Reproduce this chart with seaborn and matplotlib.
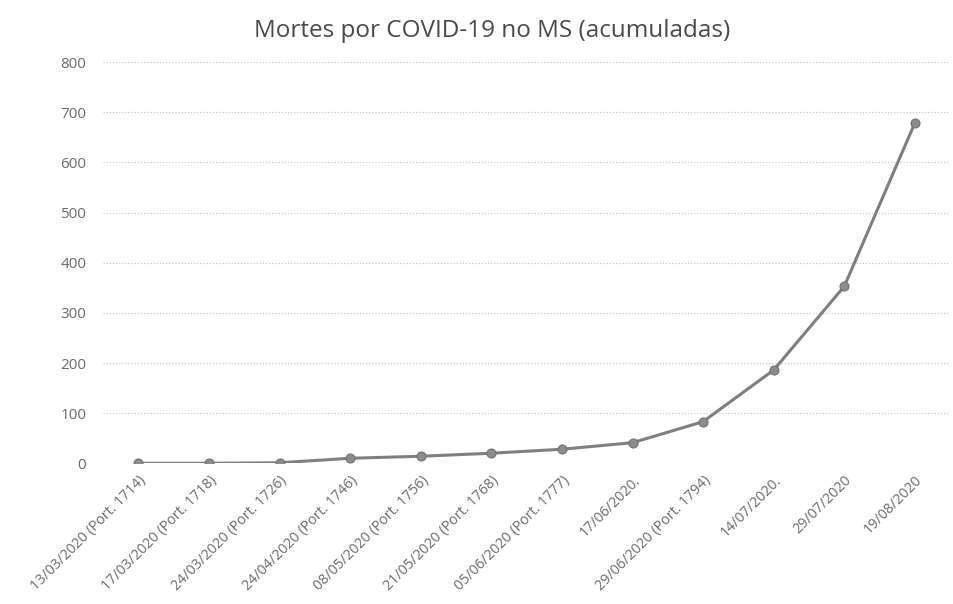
import matplotlib
matplotlib.use("Agg")
import matplotlib.pyplot as plt
import seaborn as sns
import pandas as pd

# Data
datas = [
    "13/03/2020 (Port. 1714)",
    "17/03/2020 (Port. 1718)",
    "24/03/2020 (Port. 1726)",
    "24/04/2020 (Port. 1746)",
    "08/05/2020 (Port. 1756)",
    "21/05/2020 (Port. 1768)",
    "05/06/2020 (Port. 1777)",
    "17/06/2020.",
    "29/06/2020 (Port. 1794)",
    "14/07/2020.",
    "29/07/2020",
    "19/08/2020",
]
mortes = [0, 0, 1, 10, 14, 20, 28, 41, 83, 186, 353, 679]
y_ticks = [0, 100, 200, 300, 400, 500, 600, 700, 800]

df = pd.DataFrame({"data": datas, "mortes": mortes})

sns.set_style("white")
plt.rcParams["font.family"] = ["Open Sans", "DejaVu Sans"]

fig = plt.figure(figsize=(9.54, 6.04), dpi=100)
ax = fig.add_axes([0.108, 0.233, 0.888, 0.664])

sns.lineplot(data=df, x="data", y="mortes", ax=ax, color="#7f7f7f",
             linewidth=2.2, marker="o", markersize=6.5,
             markerfacecolor="#8c8c8c", markeredgecolor="#6f6f6f", sort=False)

ax.set_xlim(-0.5, len(datas) - 0.5)
ax.set_ylim(0, 800)
ax.set_yticks(y_ticks)
ax.yaxis.grid(True, linestyle=(0, (1, 1.5)), color="#c8c8c8", linewidth=0.9)
ax.set_axisbelow(True)
for s in ax.spines.values():
    s.set_visible(False)

ax.set_xlabel("")
ax.set_ylabel("")
ax.tick_params(axis="both", length=0, colors="#6b6b6b")
ax.tick_params(axis="x", labelsize=10.3, pad=7)
ax.tick_params(axis="y", labelsize=11, pad=12)
plt.setp(ax.get_xticklabels(), rotation=45, ha="right", rotation_mode="anchor")

# title is centred over the whole chart area, a bit left of the plot centre
ax.set_title("Mortes por COVID-19 no MS (acumuladas)", fontsize=17.5,
             color="#4a4a4a", pad=18, x=0.459)

fig.savefig("out.png", dpi=100)
